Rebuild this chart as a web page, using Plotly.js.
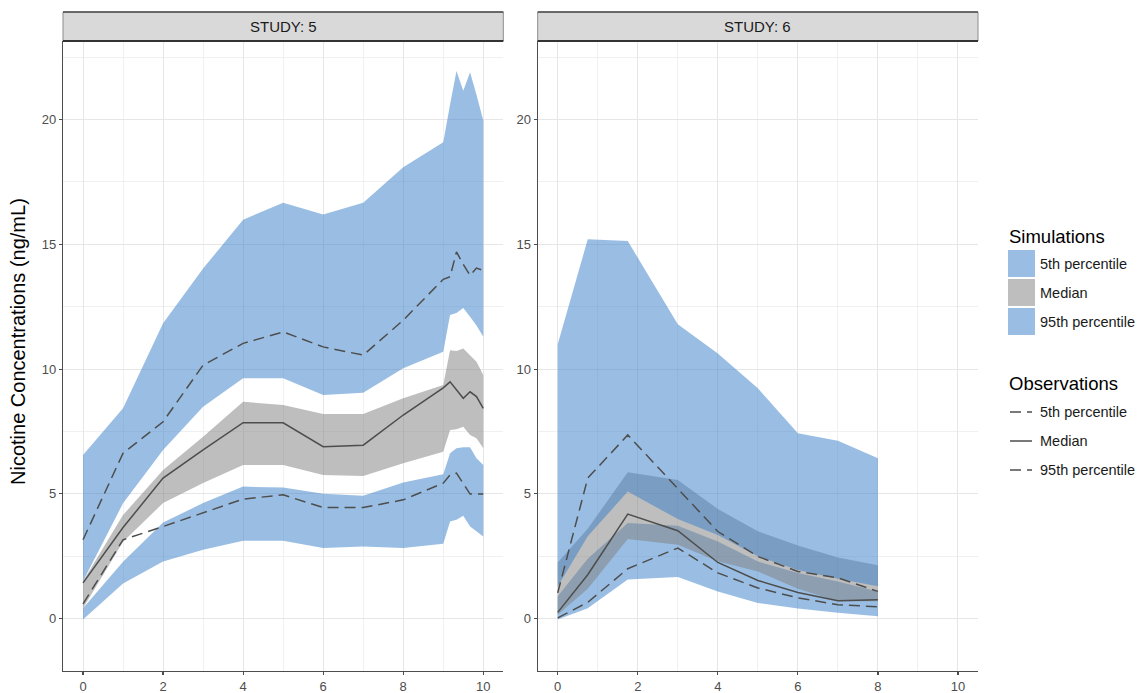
<!DOCTYPE html>
<html>
<head>
<meta charset="utf-8">
<script src="https://cdn.plot.ly/plotly-3.0.1.min.js"></script>
<style>
  html, body { margin: 0; padding: 0; background: #fff; }
  #chart { width: 1139px; height: 693px; }
</style>
</head>
<body>
<div id="chart"></div>
<script>
// ---- Study 5: sampling times (h) ----
const timeS5 = [0, 1, 2, 3, 4, 5, 6, 7, 8, 9, 9.17, 9.33, 9.5, 9.67, 9.83, 10];
// simulated prediction intervals (ng/mL)
const s5Sim5Lo   = [-0.04, 1.41, 2.29, 2.76, 3.12, 3.12, 2.83, 2.89, 2.83, 3.0, 3.89, 3.96, 4.12, 3.69, 3.49, 3.29];
const s5Sim5Hi   = [0.41, 2.28, 3.85, 4.63, 5.29, 5.25, 5.0, 4.92, 5.45, 5.79, 6.63, 6.83, 6.87, 6.87, 6.43, 6.16];
const s5SimMedLo = [0.41, 3.08, 4.63, 5.43, 6.16, 6.16, 5.76, 5.72, 6.23, 6.69, 7.56, 7.59, 7.69, 7.36, 7.23, 6.83];
const s5SimMedHi = [1.5, 4.15, 5.96, 7.29, 8.69, 8.56, 8.2, 8.2, 8.83, 9.36, 10.76, 10.73, 10.83, 10.56, 10.29, 9.76];
const s5Sim95Lo  = [1.5, 4.62, 6.76, 8.49, 9.63, 9.63, 8.96, 9.05, 10.03, 10.7, 12.17, 12.25, 12.45, 12.1, 11.75, 11.3];
const s5Sim95Hi  = [6.56, 8.43, 11.84, 14.03, 15.99, 16.67, 16.2, 16.67, 18.09, 19.09, 20.6, 21.95, 21.16, 21.9, 21.0, 19.96];
// observed percentiles (ng/mL)
const s5Obs5   = [0.59, 3.16, 3.69, 4.23, 4.79, 4.96, 4.45, 4.45, 4.76, 5.43, 5.76, 5.83, 5.4, 4.99, 4.99, 4.99];
const s5ObsMed = [1.43, 3.65, 5.63, 6.76, 7.85, 7.85, 6.89, 6.95, 8.16, 9.25, 9.49, 9.15, 8.83, 9.09, 8.9, 8.43];
const s5Obs95  = [3.16, 6.63, 7.89, 10.16, 11.03, 11.49, 10.89, 10.56, 11.96, 13.6, 13.7, 14.7, 14.2, 13.75, 14.05, 13.95];

// ---- Study 6 ----
const timeS6 = [0, 0.75, 1.75, 3, 4, 5, 6, 7, 8];
const s6Sim5Lo   = [-0.04, 0.41, 1.57, 1.67, 1.09, 0.63, 0.4, 0.23, 0.09];
const s6Sim5Hi   = [0.9, 2.4, 3.83, 3.72, 3.09, 2.29, 1.83, 1.49, 1.09];
const s6SimMedLo = [0.15, 1.2, 3.19, 2.96, 2.3, 1.89, 1.2, 0.7, 0.7];
const s6SimMedHi = [2.25, 3.6, 5.87, 5.56, 4.39, 3.5, 2.93, 2.45, 2.14];
const s6Sim95Lo  = [1.29, 3.3, 5.09, 3.99, 3.35, 2.5, 1.95, 1.6, 1.3];
const s6Sim95Hi  = [11.0, 15.2, 15.13, 11.8, 10.63, 9.23, 7.43, 7.13, 6.43];
const s6Obs5   = [0.03, 0.65, 2.0, 2.83, 1.83, 1.23, 0.83, 0.56, 0.47];
const s6ObsMed = [0.25, 1.76, 4.19, 3.52, 2.25, 1.53, 1.05, 0.72, 0.76];
const s6Obs95  = [1.03, 5.63, 7.36, 5.2, 3.49, 2.49, 1.89, 1.63, 1.09];

// ---- labels ----
const panelLabels = ['STUDY: 5', 'STUDY: 6'];
const xTicks = [0, 2, 4, 6, 8, 10];
const yTicks = [0, 5, 10, 15, 20];
const simLabels = ['5th percentile', 'Median', '95th percentile'];
const obsLabels = ['5th percentile', 'Median', '95th percentile'];
const yTitle = 'Nicotine Concentrations (ng/mL)';

// ---- styling ----
const FONT = 'Liberation Sans, Arial, sans-serif';
const BLUE = 'rgba(54,125,199,0.5)';
const GREY = 'rgba(125,125,125,0.5)';
const LINE = '#4d4d4d';
const DASH = '11px,6px';

const W = 1139, H = 693;
const M = { l: 63, r: 161, t: 41, b: 22 };
const px = x => (x - M.l) / (W - M.l - M.r);
const py = y => (H - M.b - y) / (H - M.t - M.b);

function band(t, lo, hi, color, xa, ya) {
  return {
    type: 'scatter', mode: 'lines', fill: 'toself', fillcolor: color,
    x: t.concat(t.slice().reverse()),
    y: hi.concat(lo.slice().reverse()),
    line: { width: 0, color: 'rgba(0,0,0,0)' },
    xaxis: xa, yaxis: ya, hoverinfo: 'skip', showlegend: false
  };
}
function obsLine(t, v, dash, xa, ya) {
  return {
    type: 'scatter', mode: 'lines', x: t, y: v,
    line: { color: LINE, width: 1.5, dash: dash },
    xaxis: xa, yaxis: ya, showlegend: false
  };
}

const traces = [
  band(timeS5, s5Sim5Lo, s5Sim5Hi, BLUE, 'x', 'y'),
  band(timeS5, s5SimMedLo, s5SimMedHi, GREY, 'x', 'y'),
  band(timeS5, s5Sim95Lo, s5Sim95Hi, BLUE, 'x', 'y'),
  obsLine(timeS5, s5Obs5, DASH, 'x', 'y'),
  obsLine(timeS5, s5ObsMed, 'solid', 'x', 'y'),
  obsLine(timeS5, s5Obs95, DASH, 'x', 'y'),
  band(timeS6, s6Sim5Lo, s6Sim5Hi, BLUE, 'x2', 'y2'),
  band(timeS6, s6SimMedLo, s6SimMedHi, GREY, 'x2', 'y2'),
  band(timeS6, s6Sim95Lo, s6Sim95Hi, BLUE, 'x2', 'y2'),
  obsLine(timeS6, s6Obs5, DASH, 'x2', 'y2'),
  obsLine(timeS6, s6ObsMed, 'solid', 'x2', 'y2'),
  obsLine(timeS6, s6Obs95, DASH, 'x2', 'y2')
];

const axisBase = {
  showline: true, linecolor: LINE, linewidth: 1.2,
  ticks: 'outside', ticklen: 3, tickwidth: 1.2, tickcolor: LINE,
  tickfont: { family: FONT, size: 13, color: '#4d4d4d' },
  showgrid: true, gridcolor: '#e6e6e6', gridwidth: 1,
  zeroline: false, fixedrange: true
};
const xAxis = (domain, anchor) => Object.assign({}, axisBase, {
  domain: domain, anchor: anchor, range: [-0.5, 10.5],
  tickvals: xTicks, ticktext: xTicks.map(String),
  minor: { dtick: 1, tick0: 0, showgrid: true, gridcolor: '#f0f0f0', gridwidth: 1 }
});
const yAxis = (anchor, extra) => Object.assign({}, axisBase, {
  domain: [0, 1], anchor: anchor, range: [-2.1, 23.15],
  tickvals: yTicks, ticktext: yTicks.map(String),
  minor: { dtick: 2.5, tick0: 0, showgrid: true, gridcolor: '#f0f0f0', gridwidth: 1 }
}, extra || {});

const leftDom = [0, px(503.3)];
const rightDom = [px(537.7), 1];

const shapes = [];
const annotations = [];

// facet strips
[leftDom, rightDom].forEach((d, i) => {
  shapes.push({ type: 'rect', xref: 'paper', yref: 'paper', x0: d[0], x1: d[1], y0: py(41), y1: py(12),
    fillcolor: '#d9d9d9', line: { color: '#8c8c8c', width: 1 } });
  shapes.push({ type: 'line', xref: 'paper', yref: 'paper', x0: d[0], x1: d[1], y0: py(12), y1: py(12),
    line: { color: '#4d4d4d', width: 1.5 } });
  shapes.push({ type: 'line', xref: 'paper', yref: 'paper', x0: d[0], x1: d[1], y0: py(41), y1: py(41),
    line: { color: '#333333', width: 1.8 } });
  annotations.push({ xref: 'paper', yref: 'paper', x: (d[0] + d[1]) / 2, y: py(26.5),
    text: panelLabels[i], showarrow: false, xanchor: 'center', yanchor: 'middle',
    font: { family: FONT, size: 15, color: '#1a1a1a' } });
});

// y-axis title, centred on the facet column including strips
annotations.push({ xref: 'paper', yref: 'paper', x: px(18), y: py(342), text: yTitle,
  textangle: -90, showarrow: false, xanchor: 'center', yanchor: 'middle',
  font: { family: FONT, size: 20, color: '#000' } });

// legend: simulations
const legX = 1008;
annotations.push({ xref: 'paper', yref: 'paper', x: px(legX - 1), y: py(236), text: 'Simulations',
  showarrow: false, xanchor: 'left', yanchor: 'middle', font: { family: FONT, size: 18.5, color: '#000' } });
const simFills = [BLUE, GREY, BLUE];
simLabels.forEach((lab, i) => {
  const top = 250 + i * 29;
  shapes.push({ type: 'rect', xref: 'paper', yref: 'paper', x0: px(legX), x1: px(legX + 27),
    y0: py(top + 27), y1: py(top), fillcolor: simFills[i], line: { width: 0 } });
  annotations.push({ xref: 'paper', yref: 'paper', x: px(legX + 30), y: py(top + 13.5), text: lab,
    showarrow: false, xanchor: 'left', yanchor: 'middle', font: { family: FONT, size: 14.5, color: '#1a1a1a' } });
});

// legend: observations
annotations.push({ xref: 'paper', yref: 'paper', x: px(legX - 1), y: py(383), text: 'Observations',
  showarrow: false, xanchor: 'left', yanchor: 'middle', font: { family: FONT, size: 18.5, color: '#000' } });
const obsDash = [DASH, 'solid', DASH];
obsLabels.forEach((lab, i) => {
  const yc = 412 + i * 29;
  shapes.push({ type: 'line', xref: 'paper', yref: 'paper', x0: px(legX + 2), x1: px(legX + 24),
    y0: py(yc), y1: py(yc), line: { color: LINE, width: 1.5, dash: obsDash[i] } });
  annotations.push({ xref: 'paper', yref: 'paper', x: px(legX + 30), y: py(yc), text: lab,
    showarrow: false, xanchor: 'left', yanchor: 'middle', font: { family: FONT, size: 14.5, color: '#1a1a1a' } });
});

const layout = {
  width: W, height: H,
  margin: M,
  paper_bgcolor: '#fff', plot_bgcolor: '#fff',
  showlegend: false,
  font: { family: FONT },
  xaxis: xAxis(leftDom, 'y'),
  yaxis: yAxis('x'),
  xaxis2: xAxis(rightDom, 'y2'),
  yaxis2: yAxis('x2', { matches: 'y' }),
  shapes: shapes,
  annotations: annotations
};

Plotly.newPlot('chart', traces, layout, { staticPlot: true, displayModeBar: false });
</script>
</body>
</html>
